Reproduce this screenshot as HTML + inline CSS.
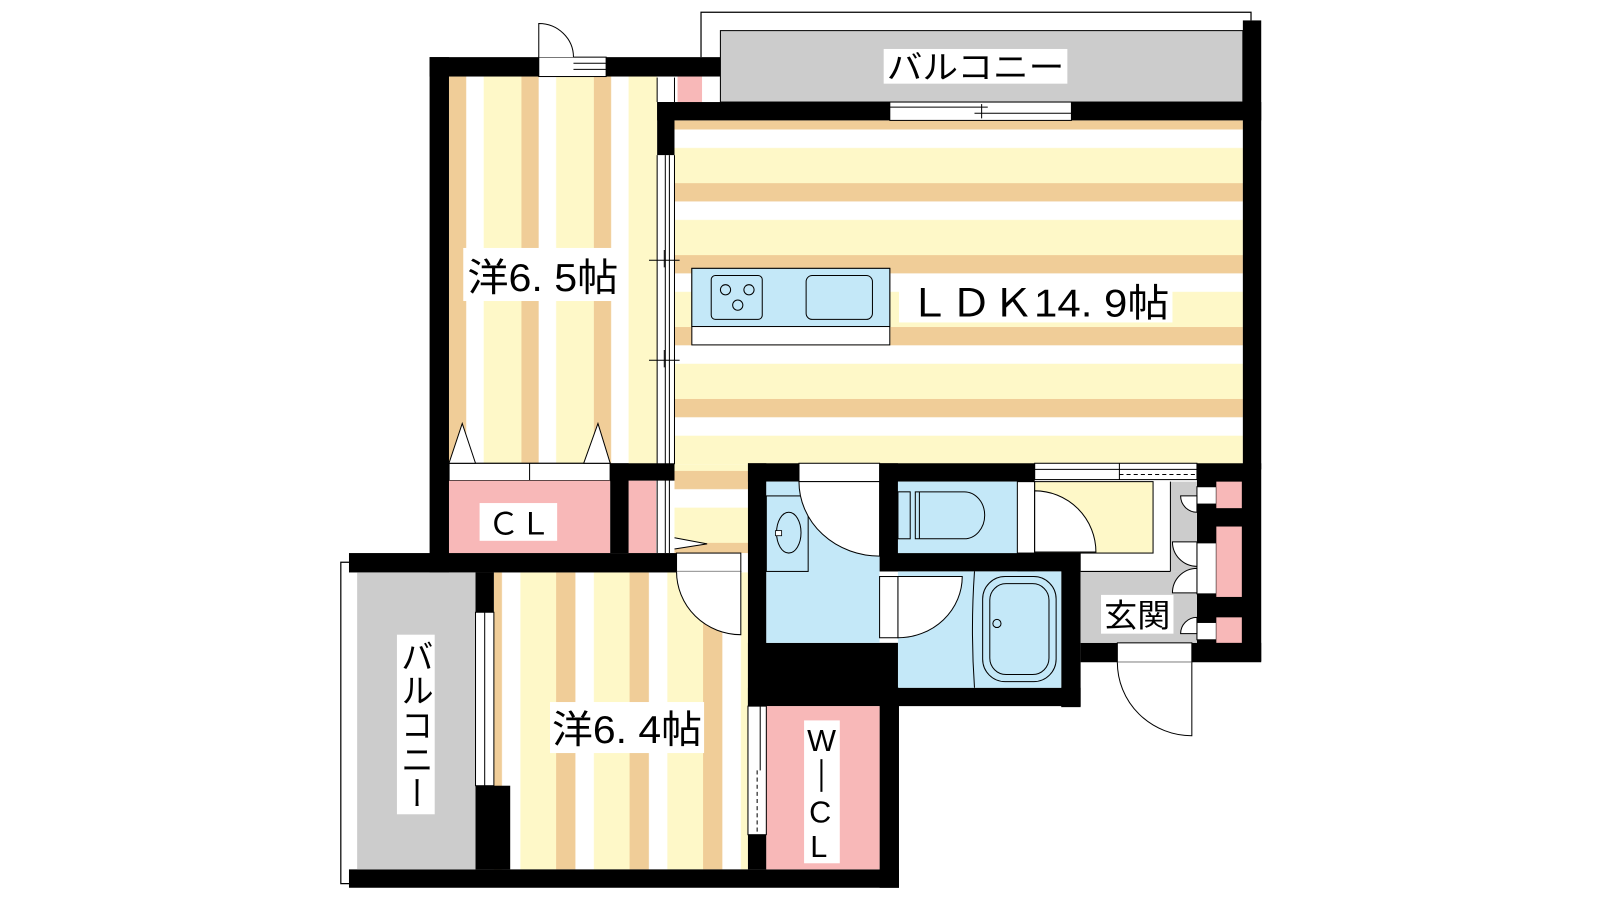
<!DOCTYPE html>
<html><head><meta charset="utf-8"><style>html,body{margin:0;padding:0;background:#fff;overflow:hidden}svg{display:block}text{font-family:"Liberation Sans","Noto Sans CJK JP",sans-serif;fill:#000}</style></head><body>
<svg width="1600" height="900" viewBox="0 0 1568 882" preserveAspectRatio="none" xmlns="http://www.w3.org/2000/svg">
<defs>
<pattern id="ph" patternUnits="userSpaceOnUse" x="0" y="109" width="20" height="70.5">
<rect x="0" y="0" width="20" height="18" fill="#f0cd98"/><rect x="0" y="18" width="20" height="18" fill="#fff"/><rect x="0" y="36" width="20" height="34.5" fill="#fef8c8"/></pattern>
<pattern id="pv1" patternUnits="userSpaceOnUse" x="440" y="0" width="71" height="20">
<rect x="0" y="0" width="17" height="20" fill="#f0cd98"/><rect x="17" y="0" width="17" height="20" fill="#fff"/><rect x="34" y="0" width="37" height="20" fill="#fef8c8"/></pattern>
<pattern id="pv2" patternUnits="userSpaceOnUse" x="473" y="0" width="72" height="20">
<rect x="0" y="0" width="19" height="20" fill="#f0cd98"/><rect x="19" y="0" width="18" height="20" fill="#fff"/><rect x="37" y="0" width="35" height="20" fill="#fef8c8"/></pattern>
</defs>
<rect width="1568" height="882" fill="#fff"/>
<!-- top balcony -->
<path d="M687 56 V12 H1226 V20" fill="none" stroke="#000" stroke-width="1.2"/>
<rect x="706" y="30" width="512" height="70" fill="#ccc" stroke="#000" stroke-width="1"/>
<rect x="866" y="48" width="180" height="34" fill="#fff"/>
<text x="869" y="77" font-size="32" textLength="174" lengthAdjust="spacingAndGlyphs">バルコニー</text>
<!-- rooms floors -->
<rect x="440" y="75" width="204" height="380" fill="url(#pv1)"/>
<rect x="661" y="118" width="557" height="337" fill="url(#ph)"/>
<rect x="661" y="455" width="72" height="87" fill="url(#ph)"/>
<rect x="484" y="561" width="249" height="291" fill="url(#pv2)"/>
<!-- closet shelf 6.5 -->
<rect x="440" y="454" width="158" height="17" fill="#fff" stroke="#000" stroke-width="1.2"/>
<line x1="519" y1="454" x2="519" y2="471" stroke="#000" stroke-width="1"/>
<path d="M440 454 L453 415 L466 454 Z M572 454 L586 415 L598 454 Z" fill="#fff" stroke="#000" stroke-width="1"/>
<rect x="440" y="471" width="158" height="71" fill="#f8b8b8"/>
<rect x="616" y="471" width="27" height="71" fill="#f8b8b8"/>
<rect x="664" y="75" width="24" height="26" fill="#f8b8b8"/>
<!-- windows LDK left -->
<g stroke="#000" stroke-width="1" fill="none">
<line x1="644" y1="152" x2="644" y2="542"/><line x1="652" y1="152" x2="652" y2="542"/><line x1="656" y1="152" x2="656" y2="542"/><line x1="661" y1="152" x2="661" y2="455"/>
<line x1="636" y1="255" x2="666" y2="255"/><line x1="651" y1="245" x2="651" y2="262"/>
<line x1="636" y1="353" x2="666" y2="353"/><line x1="651" y1="343" x2="651" y2="360"/>
<line x1="644" y1="76" x2="644" y2="100"/><line x1="661" y1="76" x2="661" y2="100"/>
</g>
<path d="M661 527 L693 533 L661 538" fill="#fff" stroke="#000" stroke-width="1"/>
<!-- kitchen -->
<rect x="678" y="263" width="194" height="75" fill="#fff" stroke="#000" stroke-width="1"/>
<rect x="678" y="263" width="194" height="57" fill="#c4e8f8" stroke="#000" stroke-width="1"/>
<rect x="697" y="270" width="50" height="43" rx="4" fill="none" stroke="#000" stroke-width="1"/>
<rect x="790" y="270" width="65" height="43" rx="6" fill="none" stroke="#000" stroke-width="1"/>
<g fill="none" stroke="#000" stroke-width="1"><circle cx="711" cy="284" r="5"/><circle cx="734" cy="284" r="5"/><circle cx="723" cy="299" r="5"/></g>
<!-- labels -->
<rect x="454" y="243" width="156" height="52" fill="#fff"/>
<text x="458" y="285" font-size="38" textLength="148" lengthAdjust="spacingAndGlyphs">洋6. 5帖</text>
<rect x="881" y="272" width="268" height="44" fill="#fff"/>
<text x="890" y="310" font-size="38" textLength="256" lengthAdjust="spacingAndGlyphs">ＬＤＫ14. 9帖</text>
<!-- walls -->
<g fill="#000">
<rect x="421" y="56" width="107" height="19"/><rect x="594" y="56" width="112" height="19"/>
<rect x="421" y="56" width="19" height="505"/>
<rect x="644" y="100" width="228" height="18"/><rect x="644" y="100" width="17" height="52"/>
<rect x="1050" y="100" width="186" height="18"/>
<rect x="1218" y="20" width="18" height="440"/>
<rect x="1173" y="454" width="63" height="194"/>
<rect x="598" y="454" width="63" height="17"/><rect x="598" y="454" width="18" height="88"/>
<rect x="342" y="542" width="323" height="19"/>
<rect x="466" y="561" width="18" height="39"/><rect x="466" y="770" width="34" height="82"/>
<rect x="342" y="852" width="539" height="18"/>
<rect x="733" y="454" width="18" height="238"/><rect x="733" y="818" width="18" height="34"/>
<rect x="733" y="454" width="50" height="18"/>
<rect x="862" y="454" width="152" height="18"/><rect x="862" y="454" width="18" height="106"/>
<rect x="997" y="542" width="17" height="18"/>
<rect x="862" y="542" width="197" height="18"/>
<rect x="733" y="630" width="148" height="62"/>
<rect x="733" y="674" width="326" height="18"/>
<rect x="862" y="674" width="19" height="196"/>
<rect x="1040" y="542" width="19" height="151"/>
<rect x="1059" y="630" width="36" height="19"/><rect x="1168" y="630" width="68" height="19"/>
</g>
<!-- top door 6.5 -->
<rect x="528" y="56" width="66" height="19" fill="#fff" stroke="#000" stroke-width="1"/>
<line x1="562" y1="62" x2="594" y2="62" stroke="#000" stroke-width="1"/><line x1="562" y1="68" x2="594" y2="68" stroke="#000" stroke-width="1"/>
<path d="M528 56 V23 A34 33 0 0 1 562 56" fill="#fff" stroke="#000" stroke-width="1"/>
<!-- LDK top window -->
<rect x="872" y="100" width="178" height="18" fill="#fff" stroke="#000" stroke-width="1"/>
<line x1="872" y1="105" x2="968" y2="105" stroke="#000"/><line x1="955" y1="111" x2="1050" y2="111" stroke="#000"/><line x1="962" y1="102" x2="962" y2="116" stroke="#000"/>
<!-- lower balcony -->
<path d="M342 551 H334 V866 H342" fill="none" stroke="#000" stroke-width="1.2"/>
<rect x="350" y="561" width="116" height="291" fill="#ccc"/>
<rect x="466" y="600" width="18" height="170" fill="#fff" stroke="#000" stroke-width="1"/>
<line x1="475" y1="600" x2="475" y2="770" stroke="#000" stroke-width="1"/>
<rect x="389" y="622" width="37" height="176" fill="#fff"/>
<text font-size="32" writing-mode="tb" x="407" y="626" textLength="168" lengthAdjust="spacingAndGlyphs" style="writing-mode:vertical-rl;glyph-orientation-vertical:0">バルコニー</text>
<rect x="539" y="688" width="151" height="50" fill="#fff"/>
<text x="541" y="728" font-size="38" textLength="147" lengthAdjust="spacingAndGlyphs">洋6. 4帖</text>
<!-- CL label -->
<rect x="470" y="493" width="76" height="37" fill="#fff"/>
<text x="478" y="524" font-size="30" textLength="62" lengthAdjust="spacingAndGlyphs">ＣＬ</text>
<!-- 6.4 door -->
<rect x="663" y="542" width="63" height="18" fill="#fff" stroke="#000" stroke-width="1"/>
<path d="M726 560 V622 A63 62 0 0 1 663 560" fill="#fff" stroke="#000" stroke-width="1"/>
<!-- WCL -->
<rect x="751" y="692" width="111" height="160" fill="#f8b8b8"/>
<rect x="733" y="692" width="18" height="126" fill="#fff" stroke="#000" stroke-width="1"/>
<line x1="745" y1="692" x2="745" y2="755" stroke="#000"/><line x1="742" y1="755" x2="742" y2="818" stroke="#000" stroke-dasharray="4,3"/>
<rect x="788" y="706" width="35" height="140" fill="#fff"/>
<text x="791" y="736" font-size="30">W</text>
<rect x="804" y="744" width="2" height="32" fill="#000"/>
<text x="793" y="806" font-size="30">C</text>
<text x="794" y="840" font-size="30">L</text>
<!-- washroom -->
<rect x="751" y="472" width="111" height="158" fill="#c4e8f8"/>
<rect x="751" y="486" width="41" height="74" fill="none" stroke="#000" stroke-width="1"/>
<ellipse cx="773" cy="522" rx="12" ry="20" fill="none" stroke="#000" stroke-width="1"/>
<rect x="760" y="520" width="6" height="5" fill="#fff" stroke="#000" stroke-width="0.8"/>
<rect x="783" y="454" width="79" height="18" fill="#fff" stroke="#000" stroke-width="1"/>
<path d="M862 472 V545 A79 73 0 0 1 783 472 Z" fill="#fff" stroke="#000" stroke-width="1"/>
<!-- toilet -->
<rect x="880" y="472" width="117" height="70" fill="#c4e8f8"/>
<rect x="880" y="482" width="12" height="46" fill="none" stroke="#000" stroke-width="1"/>
<path d="M897 482 H945 A20 23 0 0 1 945 528 H897 Z" fill="none" stroke="#000" stroke-width="1"/>
<line x1="901" y1="482" x2="901" y2="528" stroke="#000"/>
<rect x="997" y="472" width="17" height="70" fill="#fff" stroke="#000" stroke-width="1"/>
<!-- hallway near toilet -->
<rect x="1014" y="472" width="116" height="70" fill="#fef8c8" stroke="#000" stroke-width="1"/>
<path d="M1014 481 V541 H1074 A60 60 0 0 0 1014 481 Z" fill="#fff" stroke="#000" stroke-width="1"/>
<rect x="1014" y="454" width="159" height="16" fill="#fff" stroke="#000" stroke-width="1"/>
<line x1="1014" y1="460" x2="1173" y2="460" stroke="#000"/><line x1="1097" y1="454" x2="1097" y2="470" stroke="#000"/>
<line x1="1097" y1="465" x2="1173" y2="465" stroke="#000" stroke-dasharray="4,3"/>
<!-- bath -->
<rect x="880" y="560" width="160" height="114" fill="#c4e8f8"/>
<rect x="862" y="565" width="18" height="60" fill="#fff" stroke="#000" stroke-width="1"/>
<path d="M880 565 H943 A63 60 0 0 1 880 625 Z" fill="#fff" stroke="#000" stroke-width="1"/>
<path d="M955 560 Q951 617 955 674" fill="none" stroke="#000" stroke-width="1"/>
<rect x="963" y="565" width="72" height="103" rx="22" fill="none" stroke="#000" stroke-width="1"/>
<rect x="970" y="572" width="58" height="89" rx="16" fill="none" stroke="#000" stroke-width="1"/>
<circle cx="977" cy="611" r="4" fill="none" stroke="#000" stroke-width="1"/>
<!-- genkan -->
<rect x="1147" y="472" width="26" height="88" fill="#ccc"/>
<rect x="1059" y="560" width="114" height="70" fill="#ccc"/>
<line x1="1059" y1="560" x2="1147" y2="560" stroke="#000" stroke-width="1"/>
<line x1="1147" y1="472" x2="1147" y2="560" stroke="#000" stroke-width="1"/>
<g fill="#fff" stroke="#000" stroke-width="1">
<rect x="1173" y="477" width="19" height="17"/><rect x="1173" y="532" width="19" height="50"/><rect x="1173" y="610" width="19" height="17"/>
<path d="M1173 486 H1157 A16 16 0 0 0 1173 502 Z"/>
<path d="M1173 531 H1149 A24 24 0 0 0 1173 555 Z"/>
<path d="M1173 581 H1149 A24 24 0 0 1 1173 557 Z"/>
<path d="M1173 621 H1157 A16 16 0 0 1 1173 605 Z"/>
</g>
<rect x="1192" y="472" width="25" height="26" fill="#f8b8b8"/>
<rect x="1192" y="516" width="25" height="69" fill="#f8b8b8"/>
<rect x="1192" y="605" width="25" height="25" fill="#f8b8b8"/>
<rect x="1079" y="583" width="71" height="38" fill="#fff"/>
<text x="1082" y="614" font-size="31" textLength="65" lengthAdjust="spacingAndGlyphs">玄関</text>
<rect x="1095" y="630" width="73" height="19" fill="#fff" stroke="#000" stroke-width="1"/>
<path d="M1168 649 V721 A73 72 0 0 1 1095 649" fill="#fff" stroke="#000" stroke-width="1"/>
</svg>
</body></html>
